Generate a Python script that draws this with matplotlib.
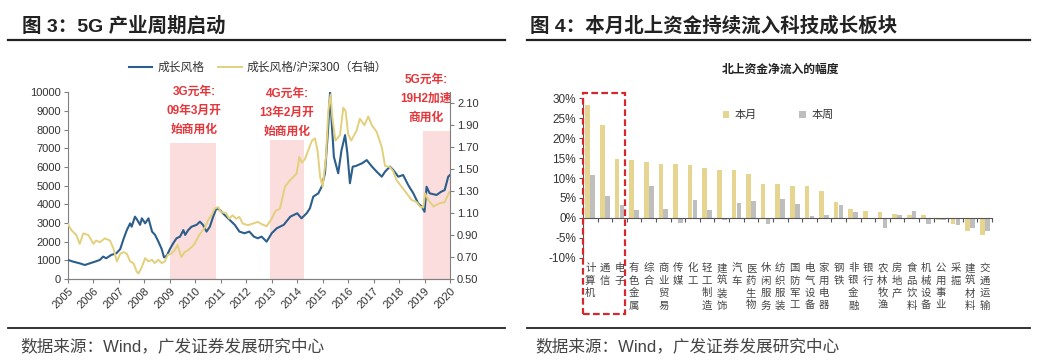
import matplotlib
matplotlib.use("Agg")
import matplotlib.pyplot as plt
import matplotlib.transforms as mtransforms
from matplotlib.patches import Rectangle
from matplotlib.lines import Line2D
import numpy as np

plt.rcParams['font.family'] = ['Liberation Sans', 'Noto Sans CJK SC']
plt.rcParams['axes.unicode_minus'] = False

# ---- left chart data: 成长风格 (left axis) ----
blue_years = [2005.0, 2005.2, 2005.46, 2005.66, 2005.86, 2006.06, 2006.25, 2006.38, 2006.5, 2006.7,
              2006.9, 2007.05, 2007.18, 2007.31, 2007.44, 2007.5, 2007.63, 2007.72, 2007.83, 2007.9,
              2008.03, 2008.16, 2008.3, 2008.42, 2008.55, 2008.68, 2008.77, 2008.88, 2009.0, 2009.13,
              2009.26, 2009.4, 2009.53, 2009.6, 2009.72, 2009.85, 2010.05, 2010.18, 2010.3, 2010.44,
              2010.57, 2010.7, 2010.83, 2010.96, 2011.15, 2011.35, 2011.55, 2011.73, 2011.93, 2012.12,
              2012.3, 2012.45, 2012.6, 2012.8, 2013.0, 2013.2, 2013.47, 2013.73, 2014.0, 2014.17,
              2014.37, 2014.5, 2014.63, 2014.83, 2014.96, 2015.09, 2015.22, 2015.29, 2015.35, 2015.44,
              2015.61, 2015.74, 2015.88, 2015.97, 2016.07, 2016.18, 2016.3, 2016.55, 2016.73, 2016.93,
              2017.12, 2017.32, 2017.45, 2017.64, 2017.77, 2017.97, 2018.16, 2018.36, 2018.56, 2018.75,
              2018.89, 2019.0, 2019.08, 2019.2, 2019.47, 2019.66, 2019.79, 2019.93, 2020.0]
blue_values = [1020, 930, 840, 750, 840, 930, 1020, 1200, 1110, 1290,
               1380, 1600, 2140, 2620, 2980, 2800, 3340, 3160, 2900, 3250,
               2980, 3250, 2540, 2360, 2000, 1600, 1160, 1250, 1600, 1910,
               2180, 2270, 2620, 2360, 2620, 2800, 2900, 3070, 2900, 2540,
               2800, 3340, 3790, 3700, 3430, 3160, 2900, 2540, 2450, 2540,
               2270, 2180, 2270, 2000, 2450, 2720, 2900, 3340, 3520, 3250,
               3520, 3790, 4410, 4590, 4940, 5660, 8160, 10000, 8500, 6550,
               5660, 6900, 7710, 6730, 5130, 6020, 6050, 6200, 6370, 6030,
               5750, 5480, 5750, 6020, 5840, 5480, 5570, 5030, 4590, 4050,
               3880, 3600, 4940, 4590, 4500, 4680, 4760, 5480, 5570]

# ---- 成长风格/沪深300 (right axis) ----
ratio_years = [2005.0, 2005.13, 2005.33, 2005.46, 2005.6, 2005.8, 2006.0, 2006.1, 2006.25, 2006.45,
               2006.65, 2006.78, 2006.92, 2007.05, 2007.18, 2007.31, 2007.44, 2007.57, 2007.7, 2007.77,
               2007.9, 2008.03, 2008.16, 2008.3, 2008.4, 2008.55, 2008.68, 2008.8, 2008.92, 2009.05,
               2009.18, 2009.3, 2009.45, 2009.58, 2009.7, 2009.85, 2009.97, 2010.1, 2010.23, 2010.38,
               2010.5, 2010.63, 2010.76, 2010.9, 2011.0, 2011.2, 2011.33, 2011.46, 2011.6, 2011.73,
               2011.86, 2012.06, 2012.26, 2012.45, 2012.6, 2012.8, 2013.0, 2013.15, 2013.32, 2013.52,
               2013.72, 2013.98, 2014.08, 2014.18, 2014.3, 2014.43, 2014.58, 2014.7, 2014.8, 2014.9,
               2015.0, 2015.13, 2015.22, 2015.31, 2015.38, 2015.5, 2015.68, 2015.81, 2015.9, 2016.0,
               2016.12, 2016.33, 2016.46, 2016.64, 2016.79, 2016.93, 2017.12, 2017.32, 2017.45, 2017.64,
               2017.77, 2017.9, 2018.1, 2018.3, 2018.49, 2018.69, 2018.82, 2018.95, 2019.02, 2019.15,
               2019.35, 2019.6, 2019.79, 2019.97]
ratio_values = [1.00, 0.945, 0.90, 0.82, 0.915, 0.90, 0.82, 0.85, 0.835, 0.87,
                0.85, 0.78, 0.66, 0.73, 0.745, 0.73, 0.66, 0.645, 0.566, 0.55,
                0.61, 0.69, 0.66, 0.675, 0.645, 0.675, 0.645, 0.66, 0.72, 0.73,
                0.76, 0.81, 0.70, 0.745, 0.76, 0.79, 0.82, 0.88, 0.925, 0.97,
                1.035, 1.08, 1.14, 1.155, 1.11, 1.10, 1.05, 1.08, 1.05, 1.065,
                1.005, 0.99, 1.005, 1.02, 1.00, 0.98, 1.05, 1.12, 1.14, 1.34,
                1.40, 1.46, 1.61, 1.56, 1.59, 1.67, 1.76, 1.78, 1.67, 1.43,
                1.34, 1.61, 2.03, 2.18, 1.97, 1.76, 1.81, 2.06, 2.03, 1.82,
                1.76, 1.85, 1.96, 1.90, 1.98, 1.90, 1.84, 1.70, 1.53, 1.52,
                1.48, 1.40, 1.34, 1.28, 1.22, 1.20, 1.16, 1.15, 1.28, 1.22,
                1.16, 1.19, 1.20, 1.29]

band_starts = [2009.0, 2012.93, 2018.93]
band_ends = [2010.8, 2014.28, 2020.0]
band_tops = [7270, 7450, 7950]

note_texts = ['3G元年:\n09年3月开\n始商用化', '4G元年:\n13年2月开\n始商用化', '5G元年:\n19H2加速\n商用化']
note_x = [2009.95, 2013.6, 2019.05]
note_y = [9000, 8900, 9650]

years = list(range(2005, 2021))

# ---- right chart data ----
industries = ['计算机', '通信', '电子', '有色金属', '综合', '商业贸易', '传媒', '化工', '轻工制造',
              '建筑装饰', '汽车', '医药生物', '休闲服务', '纺织服装', '国防军工', '电气设备', '家用电器',
              '钢铁', '非银金融', '银行', '农林牧渔', '房地产', '食品饮料', '机械设备', '公用事业',
              '采掘', '建筑材料', '交通运输']
this_month = [28.3, 23.3, 14.7, 14.5, 14.1, 13.6, 13.5, 13.2, 12.4, 11.9, 11.9, 11.0, 8.6, 8.6,
              8.1, 8.0, 6.8, 4.1, 2.2, 1.7, 1.4, 0.9, 0.7, 0.7, -0.5, -1.5, -3.2, -4.4]
this_week = [10.7, 5.5, 3.1, 1.9, 8.0, 2.1, -1.2, 4.4, 2.0, -0.5, 3.8, 4.2, -1.5, 4.8,
             3.4, 0.5, 0.7, 3.1, 1.4, -0.4, -2.5, 0.7, 1.7, -1.5, -0.6, -1.7, -2.5, -3.4]

BLUE = '#2C5E8C'
KHAKI = '#E2D07C'
BAR_Y = '#E6D590'
BAR_G = '#BEBEBE'
RED = '#E4373C'
TXT = '#333333'
SPINE = '#808080'

fig = plt.figure(figsize=(10.4, 3.61), dpi=100)
W, H = 1040, 361

def px_axes(l, t, r, b):
    return fig.add_axes([l / W, (H - b) / H, (r - l) / W, (b - t) / H])

# headers and footers
fig.text(22 / W, (H - 26) / H, '图 3：5G 产业周期启动', fontsize=14, fontweight='bold',
         color='#222222', va='center')
fig.text(530 / W, (H - 26) / H, '图 4：本月北上资金持续流入科技成长板块', fontsize=14,
         fontweight='bold', color='#222222', va='center')
for x0, x1 in [(8, 505), (527, 1030)]:
    fig.add_artist(Line2D([x0 / W, x1 / W], [(H - 40) / H] * 2, color='#222222', lw=1.6))
    fig.add_artist(Line2D([x0 / W, x1 / W], [(H - 328) / H] * 2, color='#222222', lw=1.3))
fig.text(20 / W, (H - 346) / H, '数据来源：Wind，广发证券发展研究中心', fontsize=12,
         color='#444444', va='center')
fig.text(535 / W, (H - 346) / H, '数据来源：Wind，广发证券发展研究中心', fontsize=12,
         color='#444444', va='center')

# ---- left chart ----
ax1 = px_axes(68, 92.3, 450, 279)
ax2 = ax1.twinx()

for s, e, t in zip(band_starts, band_ends, band_tops):
    ax1.bar(s, t, width=e - s, align='edge', color='#FBDDDD', zorder=0, lw=0)

l1, = ax1.plot(blue_years, blue_values, color=BLUE, lw=1.5, zorder=3)
l2, = ax2.plot(ratio_years, ratio_values, color=KHAKI, lw=1.4, zorder=2)

ax1.set_xlim(2005, 2020)
ax1.set_ylim(0, 10000)
ax1.set_yticks(range(0, 10001, 1000))
ax2.set_ylim(0.5, 2.2)
ax2.set_yticks(np.arange(0.5, 2.11, 0.2))
ax2.set_yticklabels([f'{v:.2f}' for v in np.arange(0.5, 2.11, 0.2)])
ax1.set_xticks(years)
ax1.set_xticklabels([str(y) for y in years], rotation=45, ha='right', rotation_mode='anchor')

for ax in (ax1, ax2):
    ax.spines['top'].set_visible(False)
    for sp in ('left', 'right', 'bottom'):
        ax.spines[sp].set_color(SPINE)
    ax.tick_params(direction='out', length=3, color=SPINE, labelsize=8, labelcolor=TXT, pad=2)
ax1.spines['right'].set_visible(False)
ax2.spines['left'].set_visible(False)

for txt, x, y in zip(note_texts, note_x, note_y):
    ax1.text(x, y, txt, color=RED, fontsize=8.5, fontweight='bold', ha='center', va='center',
             linespacing=1.75, zorder=5)

fig.legend([l1, l2], ['成长风格', '成长风格/沪深300（右轴）'], loc='center',
           bbox_to_anchor=(258 / W, (H - 68) / H), ncol=2, frameon=False, fontsize=8.5,
           handlelength=2.0, columnspacing=1.2, handletextpad=0.4, labelcolor=TXT)

# ---- right chart ----
ax3 = px_axes(583, 98.3, 992, 257.7)
x = np.arange(len(industries))
ax3.bar(x - 0.17, this_month, width=0.32, color=BAR_Y, label='本月', zorder=2)
ax3.bar(x + 0.17, this_week, width=0.32, color=BAR_G, label='本周', zorder=2)
ax3.set_xlim(-0.5, len(industries) - 0.5)
ax3.set_ylim(-10, 30)
ax3.set_yticks(range(-10, 31, 5))
ax3.set_yticklabels([f'{v}%' for v in range(-10, 31, 5)])
ax3.spines['top'].set_visible(False)
ax3.spines['right'].set_visible(False)
ax3.spines['bottom'].set_position(('data', 0))
for sp in ('left', 'bottom'):
    ax3.spines[sp].set_color('#555555')
ax3.set_xticks(np.arange(-0.5, len(industries), 1))
ax3.set_xticklabels([])
ax3.tick_params(direction='out', length=3, color='#555555', labelsize=8.5, labelcolor=TXT, pad=2)

trans = mtransforms.blended_transform_factory(ax3.transData, ax3.transAxes)
for i, name in enumerate(industries):
    ax3.text(i, -0.035, '\n'.join(name), transform=trans, ha='center', va='top',
             fontsize=7.5, color='#444444', linespacing=1.3)

ax3.add_patch(Rectangle((-0.52, -0.355), 2.92, 1.386, transform=trans, fill=False,
                        ec='#D7262C', lw=1.6, ls=(0, (3, 1.5)), clip_on=False, zorder=6))

ax3.legend(loc='center', bbox_to_anchor=(0.477, 0.895), ncol=2, frameon=False, fontsize=8,
           handlelength=0.6, handleheight=0.6, columnspacing=3.8, handletextpad=0.5,
           labelcolor=TXT)
fig.text(780 / W, (H - 70) / H, '北上资金净流入的幅度', fontsize=8.5, fontweight='bold',
         color='#222222', ha='center', va='center')

fig.savefig('out.png', dpi=100)
